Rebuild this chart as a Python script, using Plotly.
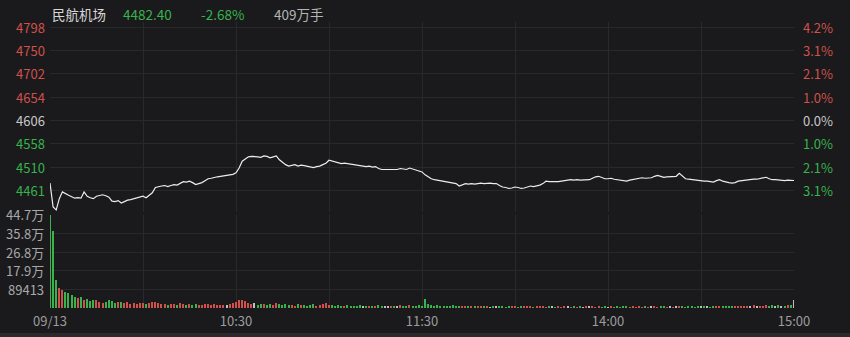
import plotly.graph_objects as go

# ---------------- data ----------------
minutes = list(range(241))  # 0 = 09:30 ... 120 = 11:30/13:00 ... 240 = 15:00

prices = [
    4477, 4428, 4422, 4445, 4459, 4455, 4452, 4449, 4446, 4447,
    4446, 4459, 4450, 4447, 4445, 4450, 4452, 4453, 4451, 4448,
    4440, 4439, 4441, 4436, 4439, 4442, 4443, 4445, 4446, 4448,
    4450, 4447, 4452, 4457, 4468, 4470, 4471, 4472, 4470, 4472,
    4474, 4473, 4477, 4480, 4479, 4481, 4478, 4474, 4476, 4478,
    4482, 4486, 4487, 4489, 4490, 4491, 4492, 4492, 4493, 4495,
    4498, 4508, 4522, 4526, 4531, 4532, 4532, 4531, 4530, 4533,
    4532, 4529, 4531, 4533, 4525, 4519, 4515, 4512, 4513, 4515,
    4512, 4514, 4513, 4512, 4510, 4509, 4511, 4512, 4515, 4518,
    4524, 4522, 4520, 4518, 4517, 4518, 4517, 4515, 4514, 4513,
    4512, 4512, 4511, 4512, 4510, 4511, 4507, 4505, 4505, 4505,
    4506, 4505, 4505, 4507, 4506, 4505, 4508, 4506, 4505, 4502,
    4500, 4494, 4490, 4486, 4484, 4483, 4482, 4480, 4479, 4478,
    4477, 4476, 4471, 4474, 4476, 4475, 4476, 4475, 4476, 4477,
    4476, 4477, 4477, 4476, 4476, 4472, 4469, 4468, 4466, 4467,
    4469, 4468, 4466, 4467, 4469, 4471, 4470, 4471, 4473, 4476,
    4481, 4480, 4480, 4479, 4480, 4481, 4482, 4482, 4484, 4483,
    4484, 4483, 4483, 4484, 4484, 4487, 4490, 4491, 4488, 4486,
    4486, 4487, 4485, 4484, 4483, 4482, 4481, 4483, 4484, 4486,
    4487, 4488, 4487, 4488, 4488, 4491, 4493, 4491, 4489, 4490,
    4490, 4491, 4491, 4497, 4491, 4486, 4485, 4484, 4483, 4482,
    4482, 4481, 4481, 4480, 4479, 4482, 4484, 4481, 4479, 4478,
    4477, 4478, 4481, 4482, 4483, 4484, 4484, 4485, 4485, 4486,
    4488, 4489, 4486, 4484, 4484, 4483, 4483, 4482, 4483, 4482.4,
    4482.4,
]

volumes = [
    447000, 368000, 135000, 95000, 86000, 78000, 70000, 62000, 55000, 47000,
    51000, 38000, 42000, 34000, 38000, 37000, 30000, 22000, 30000, 38000,
    33000, 25000, 27000, 30000, 22000, 28000, 20000, 25000, 18000, 22000,
    26000, 17000, 24000, 28000, 30000, 22000, 18000, 20000, 16000, 19000,
    21000, 15000, 22000, 18000, 14000, 17000, 15000, 19000, 13000, 16000,
    20000, 18000, 15000, 17000, 14000, 16000, 13000, 15000, 18000, 22000,
    30000, 38000, 40000, 33000, 26000, 18000, 22000, 15000, 20000, 17000,
    14000, 19000, 16000, 22000, 18000, 15000, 20000, 14000, 16000, 12000,
    17000, 13000, 15000, 11000, 14000, 18000, 12000, 15000, 20000, 24000,
    16000, 13000, 11000, 14000, 12000, 10000, 13000, 11000, 12000, 10000,
    13000, 11000, 9000, 12000, 10000, 11000, 13000, 9000, 11000, 10000,
    12000, 9000, 11000, 13000, 10000, 12000, 14000, 11000, 10000, 15000,
    12000, 42000, 18000, 14000, 12000, 15000, 10000, 12000, 9000, 11000,
    13000, 10000, 12000, 9000, 11000, 8000, 10000, 9000, 12000, 8000,
    10000, 9000, 7000, 10000, 8000, 11000, 9000, 7000, 10000, 8000,
    9000, 7000, 10000, 8000, 9000, 11000, 7000, 9000, 8000, 10000,
    7000, 9000, 8000, 6000, 9000, 7000, 8000, 10000, 7000, 9000,
    6000, 8000, 7000, 9000, 8000, 10000, 7000, 8000, 6000, 9000,
    7000, 8000, 6000, 9000, 7000, 8000, 10000, 7000, 9000, 6000,
    8000, 7000, 9000, 6000, 8000, 10000, 7000, 9000, 8000, 6000,
    9000, 7000, 8000, 11000, 9000, 7000, 8000, 10000, 7000, 9000,
    8000, 11000, 9000, 7000, 10000, 8000, 12000, 9000, 11000, 8000,
    10000, 9000, 12000, 10000, 8000, 11000, 9000, 13000, 10000, 12000,
    9000, 14000, 11000, 13000, 10000, 15000, 12000, 11000, 14000, 16000,
    38000,
]

prev_close = 4606
price_ticks = [4798, 4750, 4702, 4654, 4606, 4558, 4510, 4461]
pct_labels = ["4.2%", "3.1%", "2.1%", "1.0%", "0.0%", "1.0%", "2.1%", "3.1%"]
vol_ticks = [89413, 178826, 268239, 357652, 447065]
vol_labels = ["89413", "17.9万", "26.8万", "35.8万", "44.7万"]
time_ticks = [0, 60, 120, 180, 240]
time_labels = ["09/13", "10:30", "11:30", "14:00", "15:00"]

header_name = "民航机场"
header_last = "4482.40"
header_change = "-2.68%"
header_volume = "409万手"

# ---------------- styling ----------------
BG = "#1a1a1c"
GRID = "#29292b"
RED = "#d0504b"
GREEN = "#37b24d"
NEUTRAL = "#c8c8c8"
FONT = "Noto Sans CJK SC"

def level_color(v):
    if v > prev_close:
        return RED
    if v < prev_close:
        return GREEN
    return NEUTRAL

bar_colors = []
for i, v in enumerate(prices):
    ref = prev_close if i == 0 else prices[i - 1]
    if v > ref:
        bar_colors.append(RED)
    elif v < ref:
        bar_colors.append(GREEN)
    else:
        bar_colors.append("#bfbfbf")

fig = go.Figure()
fig.add_trace(go.Scatter(
    x=minutes, y=prices, mode="lines",
    line=dict(color="#ececec", width=1.2),
    xaxis="x", yaxis="y", hoverinfo="skip", showlegend=False,
))
fig.add_trace(go.Bar(
    x=minutes, y=volumes, marker=dict(color=bar_colors, line=dict(width=0)),
    width=0.42, xaxis="x2", yaxis="y2", hoverinfo="skip", showlegend=False,
))

annotations = []
for p, pct in zip(price_ticks, pct_labels):
    c = level_color(p)
    annotations.append(dict(x=-0.004, y=p, xref="paper", yref="y", text=str(p),
                            showarrow=False, xanchor="right", yanchor="middle",
                            font=dict(family=FONT, size=13, color=c)))
    annotations.append(dict(x=1.0094, y=p, xref="paper", yref="y", text=pct,
                            showarrow=False, xanchor="left", yanchor="middle",
                            font=dict(family=FONT, size=13, color=c)))
for v, t in zip(vol_ticks, vol_labels):
    annotations.append(dict(x=-0.005, y=v, xref="paper", yref="y2", text=t,
                            showarrow=False, xanchor="right", yanchor="middle",
                            font=dict(family=FONT, size=13, color="#a8a8a8")))
header = [
    (0.0, header_name, "#d6d6d6"),
    (0.095, header_last, GREEN),
    (0.2, header_change, GREEN),
    (0.298, header_volume, "#b4b4b4"),
]
for xp, t, c in header:
    annotations.append(dict(x=xp, y=1.028, xref="paper", yref="paper", text=t,
                            showarrow=False, xanchor="left", yanchor="middle",
                            font=dict(family=FONT, size=13.5, color=c)))

fig.update_layout(
    width=850, height=337,
    margin=dict(l=50, r=56, t=22, b=29, autoexpand=False),
    paper_bgcolor=BG, plot_bgcolor=BG,
    bargap=0,
    annotations=annotations,
    xaxis=dict(domain=[0, 1], range=[0, 240], anchor="y",
               tickvals=time_ticks, showticklabels=False, ticks="",
               showgrid=True, gridcolor=GRID, gridwidth=1,
               minor=dict(dtick=30, tick0=0, showgrid=True, gridcolor=GRID),
               zeroline=False, showline=False, fixedrange=True),
    yaxis=dict(domain=[0.336, 1], range=[4417.8, 4808.3],
               tickvals=price_ticks, showticklabels=False, ticks="",
               showgrid=True, gridcolor=GRID, zeroline=False, showline=False),
    xaxis2=dict(domain=[0, 1], range=[0, 240], anchor="y2",
                tickvals=time_ticks, ticktext=time_labels, ticks="",
                ticklabelstandoff=4, automargin=False,
                tickfont=dict(family=FONT, size=13, color="#9c9c9c"),
                showgrid=True, gridcolor=GRID,
                minor=dict(dtick=30, tick0=0, showgrid=True, gridcolor=GRID),
                zeroline=False, showline=False),
    yaxis2=dict(domain=[0, 0.3252], range=[0, 447065],
                tickvals=vol_ticks, showticklabels=False, ticks="",
                showgrid=True, gridcolor=GRID, zeroline=False, showline=False),
    shapes=[dict(type="rect", xref="paper", yref="paper",
                 x0=-0.0672, x1=1.0753, y0=-0.1049, y1=-0.0875,
                 fillcolor="#2a2a2c", line=dict(width=0), layer="below")],
)

fig.write_html("out.html")
